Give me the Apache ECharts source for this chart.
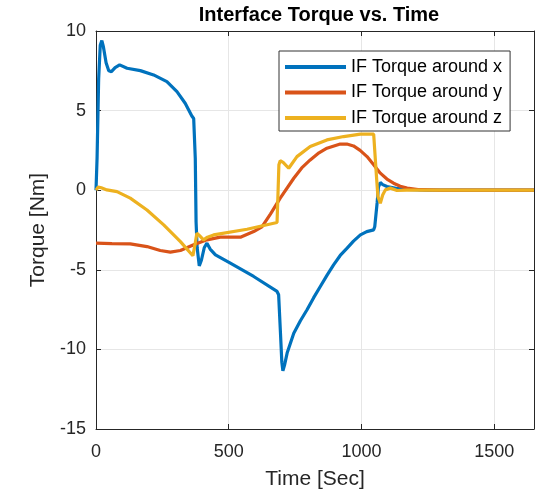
<!DOCTYPE html>
<html lang="en">
<head>
    <meta charset="UTF-8">
    <title>Interface Torque vs. Time</title>
    <script src="https://cdn.jsdelivr.net/npm/echarts@6/dist/echarts.min.js"></script>
    <style>
        html, body { margin: 0; height: 100%; background: #fff; }
        #main { width: 541px; height: 496px; }
    </style>
</head>
<body>
    <div id="main"></div>
    <script>
        // series data: [time (s), torque (Nm)]
        var seriesNames = ['IF Torque around x', 'IF Torque around y', 'IF Torque around z'];
        var torqueX = [
            [0, 0], [4, 2], [10, 7], [16, 9.1], [22, 9.4], [28, 9.0], [38, 8.0], [48, 7.5], [58, 7.45],
            [72, 7.7], [89, 7.87], [117, 7.66], [167, 7.51], [217, 7.24], [267, 6.82], [305, 6.19],
            [336, 5.46], [361, 4.66], [368, 4.5], [374, 2], [377, -2], [381, -3.6], [389, -4.75],
            [397, -4.4], [408, -3.6], [418, -3.33], [430, -3.7], [450, -4.06], [506, -4.58],
            [594, -5.42], [682, -6.36], [688, -6.57], [695, -9], [700, -10.8], [704, -11.35],
            [710, -11.0], [720, -10.23], [745, -8.98], [770, -8.2], [795, -7.51], [820, -6.75],
            [845, -6.05], [870, -5.35], [895, -4.69], [920, -4.1], [946, -3.64], [970, -3.2],
            [996, -2.81], [1020, -2.6], [1046, -2.49], [1050, -2.3], [1059, -0.8],
            [1064, 0.2], [1071, 0.48], [1080, 0.35], [1096, 0.23], [1130, 0.12], [1172, 0.05],
            [1250, 0], [1650, 0]
        ];
        var torqueY = [
            [0, -3.33], [60, -3.35], [129, -3.37], [192, -3.54], [242, -3.79], [280, -3.89],
            [318, -3.79], [368, -3.43], [418, -3.12], [468, -2.95], [544, -2.95], [594, -2.6],
            [625, -2.3], [657, -1.5], [694, -0.5], [745, 0.75], [775, 1.4], [807, 1.9], [840, 2.35],
            [870, 2.64], [920, 2.9], [945, 2.9], [970, 2.78], [995, 2.5], [1021, 2.11], [1046, 1.6],
            [1071, 1.07], [1096, 0.7], [1121, 0.44], [1146, 0.25], [1172, 0.13], [1220, 0.03],
            [1300, 0], [1650, 0]
        ];
        var torqueZ = [
            [0, 0], [8, 0.2], [20, 0.15], [41, 0.02], [79, -0.09], [129, -0.5], [192, -1.24],
            [255, -2.18], [318, -3.23], [365, -4.12], [372, -3.5], [380, -2.7], [390, -2.85],
            [405, -3.12], [420, -2.95], [443, -2.81], [569, -2.45], [682, -2.03], [686, 0],
            [689, 1.6], [694, 1.85], [705, 1.75], [726, 1.38], [757, 2.11], [807, 2.74], [870, 3.16],
            [933, 3.37], [996, 3.52], [1046, 3.53], [1050, 3.5], [1056, 1], [1062, -0.4],
            [1071, -0.82], [1080, -0.3], [1090, 0.02], [1109, 0.13], [1134, -0.02], [1170, 0],
            [1650, 0]
        ];
        var colors = ['#0072BD', '#D95319', '#EDB120'];

        var font = "'Liberation Sans', Arial, Helvetica, sans-serif";
        var axisColor = '#262626';

        function frameAxis(pos) {
            var isX = pos === 'top';
            return {
                type: 'value', position: pos,
                min: isX ? 0 : -15, max: isX ? 1650 : 10,
                interval: isX ? 500 : 5,
                axisLine: { show: true, onZero: false, lineStyle: { color: axisColor, width: 1 } },
                axisTick: { show: true, inside: true, length: 5, lineStyle: { color: axisColor } },
                axisLabel: { show: false },
                splitLine: { show: false }
            };
        }

        var chart = echarts.init(document.getElementById('main'));
        chart.setOption({
            animation: false,
            textStyle: { fontFamily: font },
            title: {
                text: 'Interface Torque vs. Time',
                left: 314, top: 0, textAlign: 'center',
                textStyle: { fontSize: 20, fontWeight: 'bold', color: '#000', fontFamily: font }
            },
            grid: { left: 96, right: 7, top: 31, bottom: 67 },
            legend: {
                orient: 'vertical',
                left: 279, top: 51,
                padding: [6, 8, 3, 6],
                itemGap: 5.5,
                itemWidth: 61, itemHeight: 4,
                icon: 'rect',
                borderColor: '#333', borderWidth: 1,
                backgroundColor: '#fff',
                textStyle: { fontSize: 18, color: '#000', lineHeight: 20, fontFamily: font },
                data: seriesNames
            },
            xAxis: [{
                type: 'value', min: 0, max: 1650, interval: 500,
                name: 'Time [Sec]', nameLocation: 'middle', nameGap: 40,
                nameTextStyle: { fontSize: 21, color: '#262626', fontFamily: font },
                axisLine: { show: true, onZero: false, lineStyle: { color: axisColor, width: 1 } },
                axisTick: { show: true, inside: true, length: 5, lineStyle: { color: axisColor } },
                axisLabel: {
                    fontSize: 18, color: '#262626', margin: 14, showMaxLabel: false, fontFamily: font,
                    formatter: function (v) { return String(v); }
                },
                splitLine: { show: true, lineStyle: { color: '#e6e6e6', width: 1 } }
            }, frameAxis('top')],
            yAxis: [{
                type: 'value', min: -15, max: 10, interval: 5,
                name: 'Torque [Nm]', nameLocation: 'middle', nameGap: 46,
                nameTextStyle: { fontSize: 21, color: '#262626', fontFamily: font },
                axisLine: { show: true, onZero: false, lineStyle: { color: axisColor, width: 1 } },
                axisTick: { show: true, inside: true, length: 5, lineStyle: { color: axisColor } },
                axisLabel: { fontSize: 18, color: '#262626', margin: 10, fontFamily: font },
                splitLine: { show: true, lineStyle: { color: '#e6e6e6', width: 1 } }
            }, frameAxis('right')],
            series: [torqueX, torqueY, torqueZ].map(function (d, i) {
                return {
                    name: seriesNames[i], type: 'line', data: d,
                    showSymbol: false, symbol: 'none',
                    color: colors[i],
                    lineStyle: { width: 3.2, color: colors[i] }
                };
            })
        });
    </script>
</body>
</html>
